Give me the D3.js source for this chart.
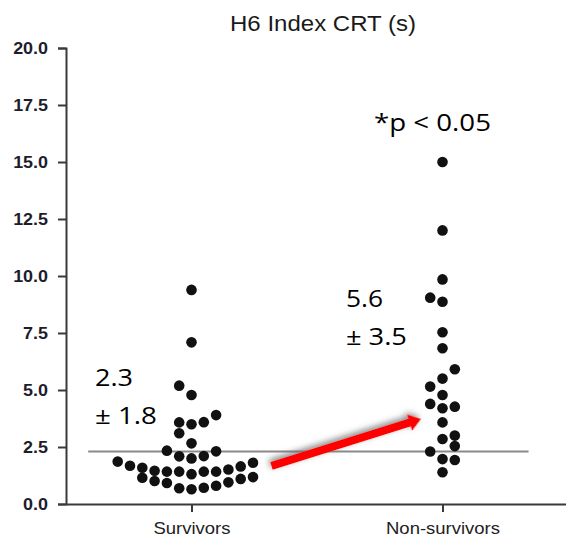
<!DOCTYPE html>
<html>
<head>
<meta charset="utf-8">
<script src="https://cdn.jsdelivr.net/npm/d3@7"></script>
<style>
  html, body { margin: 0; padding: 0; background: #fff; }
  svg { display: block; }
</style>
</head>
<body>
<svg id="chart" width="566" height="537"></svg>
<script>
// ---------------- data ----------------
const categories = ["Survivors", "Non-survivors"];
const yTicks = [0, 2.5, 5, 7.5, 10, 12.5, 15, 17.5, 20];
const titleText = "H6 Index CRT (s)";

// Survivors: CRT values and their swarm slot (column index around the group centre)
const survivorsValues = [
  1.86, 1.68, 1.59, 1.46, 1.42, 1.42, 1.31, 1.42, 1.42, 1.51, 1.65, 1.81,
  1.15, 1.01, 0.92, 0.69, 0.65, 0.71, 0.80, 0.95, 1.10, 1.18,
  2.34, 2.09, 2.00, 2.10, 2.31, 2.66, 3.10, 3.58, 3.50, 3.59, 3.90, 5.19, 4.78, 7.09, 9.39
];
const survivorsSlots = [
  -6, -5, -4, -3, -2, -1, 0, 1, 2, 3, 4, 5,
  -4, -3, -2, -1, 0, 1, 2, 3, 4, 5,
  -2, -1, 0, 1, 2, 0, -1, -1, 0, 1, 2, -1, 0, 0, 0
];

// Non-survivors
const nonSurvivorsValues = [
  15.0, 12.0, 9.85, 9.05, 8.87, 7.53, 6.83, 5.91, 5.50, 5.15, 4.78,
  4.39, 4.20, 4.27, 3.58, 3.00, 2.85, 2.54, 2.30, 1.97, 1.93, 1.39
];
const nonSurvivorsSlots = [
  0, 0, 0, -1, 0, 0, 0, 1, 0, -1, 0,
  -1, 0, 1, 0, 1, 0, 1, -1, 0, 1, 0
];

const referenceLine = 2.3;

// annotations: [text, category, slot offset, value at baseline, width]
const annotations = [
  ["2.3", "Survivors", -7.85, 5.18, 38],
  ["\u00B1 1.8", "Survivors", -7.85, 3.51, 62],
  ["5.6", "Non-survivors", -7.85, 8.64, 37],
  ["\u00B1 3.5", "Non-survivors", -7.85, 6.97, 61],
  ["*p < 0.05", "Non-survivors", -5.57, 16.36, 117]
];
// arrow from survivors towards non-survivors: [category, slot, value]
const arrowFrom = ["Survivors", 6.5, 1.67];
const arrowTo = ["Non-survivors", -1.75, 3.73];

// ---------------- layout ----------------
const svg = d3.select("#chart");
const stretch = 1.12;

const y = d3.scaleLinear().domain([0, 20]).range([504, 48]);
const x = d3.scalePoint().domain(categories).range([66, 568]).padding(0.5);
const slot = d3.scaleLinear().domain([0, 1]).range([0, 12.3]);

const px = (cat, s) => x(cat) + slot(s);

function stretchText(sel, factor) {
  sel.each(function () {
    const w = this.getComputedTextLength();
    d3.select(this).attr("textLength", w * factor).attr("lengthAdjust", "spacingAndGlyphs");
  });
}

// defs: shadow for arrow
const defs = svg.append("defs");
const f = defs.append("filter").attr("id", "shadow")
  .attr("x", "-20%").attr("y", "-80%").attr("width", "140%").attr("height", "260%");
f.append("feDropShadow").attr("dx", -1).attr("dy", -2.5).attr("stdDeviation", 3)
  .attr("flood-color", "#666").attr("flood-opacity", 0.8);

// title
svg.append("text")
  .attr("x", 323).attr("y", 31)
  .attr("text-anchor", "middle")
  .attr("font-family", "'Liberation Sans', Arial, Helvetica, sans-serif")
  .attr("font-size", 22)
  .attr("fill", "#1a1a1a")
  .text(titleText)
  .attr("textLength", 186).attr("lengthAdjust", "spacingAndGlyphs");

// y axis
const yAxis = svg.append("g")
  .attr("transform", `translate(${x.range()[0]},0)`)
  .call(d3.axisLeft(y).tickValues(yTicks).tickFormat(d3.format(".1f")).tickSize(8).tickPadding(10));
yAxis.select(".domain").attr("stroke", "#3a3a3a").attr("stroke-width", 2);
yAxis.selectAll(".tick line").attr("stroke", "#3a3a3a").attr("stroke-width", 2);
yAxis.selectAll(".tick text")
  .attr("font-family", "'Liberation Sans', Arial, Helvetica, sans-serif")
  .attr("font-size", 16).attr("font-weight", "bold").attr("fill", "#1d1d2c");
stretchText(yAxis.selectAll(".tick text"), stretch);

// x axis
const xAxis = svg.append("g")
  .attr("transform", `translate(0,${y(0)})`)
  .call(d3.axisBottom(x).tickSize(8).tickSizeOuter(0).tickPadding(10));
xAxis.select(".domain").attr("stroke", "#3a3a3a").attr("stroke-width", 2);
xAxis.selectAll(".tick line").attr("stroke", "#3a3a3a").attr("stroke-width", 2);
xAxis.selectAll(".tick text")
  .attr("font-family", "'Liberation Sans', Arial, Helvetica, sans-serif")
  .attr("font-size", 16.5).attr("fill", "#222");
stretchText(xAxis.selectAll(".tick text"), stretch);

// reference line
svg.append("line")
  .attr("x1", px("Survivors", -8.4)).attr("x2", px("Non-survivors", 7))
  .attr("y1", y(referenceLine)).attr("y2", y(referenceLine))
  .attr("stroke", "#8a8a8a").attr("stroke-width", 2);

// dots
const points = [];
survivorsValues.forEach((v, i) => points.push({ cat: "Survivors", v, s: survivorsSlots[i] }));
nonSurvivorsValues.forEach((v, i) => points.push({ cat: "Non-survivors", v, s: nonSurvivorsSlots[i] }));

svg.append("g").selectAll("circle").data(points).join("circle")
  .attr("cx", d => px(d.cat, d.s))
  .attr("cy", d => y(d.v))
  .attr("r", 5.3)
  .attr("fill", "#111");

// arrow
const x0 = px(arrowFrom[0], arrowFrom[1]), y0 = y(arrowFrom[2]);
const x1 = px(arrowTo[0], arrowTo[1]), y1 = y(arrowTo[2]);
const L = Math.hypot(x1 - x0, y1 - y0);
const ang = Math.atan2(y1 - y0, x1 - x0) * 180 / Math.PI;
const hw = 4, headL = 12, headW = 8.5;
const arrowPts = [[0, -hw], [L - headL, -hw], [L - headL, -headW], [L, 0], [L - headL, headW], [L - headL, hw], [0, hw]];
svg.append("polygon")
  .attr("points", arrowPts.map(p => p.join(",")).join(" "))
  .attr("transform", `translate(${x0},${y0}) rotate(${ang})`)
  .attr("fill", "#ff0000")
  .attr("filter", "url(#shadow)");

// annotations
svg.append("g").selectAll("text").data(annotations).join("text")
  .attr("x", d => px(d[1], d[2]))
  .attr("y", d => y(d[3]))
  .attr("font-family", "'Open Sans', 'Noto Sans', sans-serif")
  .attr("font-size", 24)
  .attr("fill", "#000")
  .attr("textLength", d => d[4])
  .attr("lengthAdjust", "spacingAndGlyphs")
  .text(d => d[0]);
</script>
</body>
</html>
